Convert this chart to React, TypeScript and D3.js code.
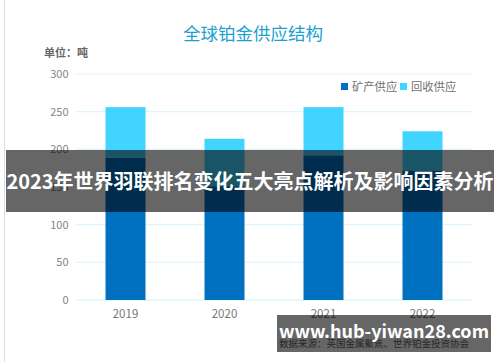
import React from "react";
import * as d3 from "d3";

const years = ["2019", "2020", "2021", "2022"];
const mineSupply = [189, 151, 192, 172];
const recycleSupply = [67, 63, 64, 52];
const yTicks = [0, 50, 100, 150, 200, 250, 300];
const seriesNames = ["矿产供应", "回收供应"];
const seriesColors = ["#0070c0", "#40d4ff"];

const W = 500;
const H = 362;
const margin = { top: 74, right: 28, bottom: 62, left: 76 };
const FONT = "'Noto Sans CJK SC', 'Noto Sans', sans-serif";

const App = () => {
  const x = d3
    .scaleBand()
    .domain(years)
    .range([margin.left, W - margin.right])
    .paddingInner(0.596)
    .paddingOuter(0.298);

  const y = d3
    .scaleLinear()
    .domain([0, 300])
    .range([H - margin.bottom, margin.top]);

  const rows = years.map((yr, i) => ({
    year: yr,
    mine: mineSupply[i],
    recycle: recycleSupply[i],
  }));
  const stacked = d3.stack().keys(["mine", "recycle"])(rows as any);

  return (
    <svg
      width={W}
      height={H}
      style={{ position: "absolute", left: 0, top: 0, background: "#fff" }}
    >
      <line x1={4.5} x2={4.5} y1={0} y2={H} stroke="#dcdcdc" />

      <text
        x={253}
        y={40}
        textAnchor="middle"
        fontFamily={FONT}
        fontSize={17.5}
        fill="#1d9fd0"
      >
        全球铂金供应结构
      </text>

      <text x={44} y={56.5} fontFamily={FONT} fontSize={11} fontWeight={700} fill="#666">
        单位：吨
      </text>

      {yTicks.map((t) => (
        <g key={t}>
          <line
            x1={margin.left}
            x2={W - margin.right}
            y1={y(t)}
            y2={y(t)}
            stroke={t === 0 ? "#cdeffd" : "#def5ff"}
            strokeWidth={1.2}
          />
          <text
            x={68.5}
            y={y(t)}
            dy="0.35em"
            textAnchor="end"
            fontFamily={FONT}
            fontSize={11}
            fill="#858585"
          >
            {t}
          </text>
        </g>
      ))}

      {stacked.map((s, si) => (
        <g key={si} fill={seriesColors[si]}>
          {s.map((d: any, i) => (
            <rect
              key={i}
              x={x(years[i])}
              y={y(d[1])}
              width={x.bandwidth()}
              height={y(d[0]) - y(d[1])}
            />
          ))}
        </g>
      ))}

      {years.map((yr) => (
        <text
          key={yr}
          x={(x(yr) as number) + x.bandwidth() / 2}
          y={318}
          textAnchor="middle"
          fontFamily={FONT}
          fontSize={11.5}
          fill="#777"
        >
          {yr}
        </text>
      ))}

      {seriesNames.map((n, i) => (
        <g key={n} transform={`translate(${341 + i * 59},0)`}>
          <rect x={0} y={83} width={7} height={7} fill={seriesColors[i]} />
          <text x={11} y={90.5} fontFamily={FONT} fontSize={11.3} fill="#707070">
            {n}
          </text>
        </g>
      ))}

      <text x={279} y={347} fontFamily={FONT} fontSize={9.5} fill="#666">
        数据来源：英国金属聚焦、世界铂金投资协会
      </text>

      <rect x={6} y={150} width={488} height={62} fill="rgba(0,0,0,0.6)" />
      <text
        x={250}
        y={182}
        dy="0.35em"
        textAnchor="middle"
        fontFamily={FONT}
        fontSize={20}
        fontWeight={700}
        fill="#fff"
      >
        2023年世界羽联排名变化五大亮点解析及影响因素分析
      </text>

      <rect x={277} y={315} width={214} height={37} fill="rgba(0,0,0,0.6)" />
      <text
        x={384}
        y={332}
        dy="0.35em"
        textAnchor="middle"
        fontFamily={FONT}
        fontSize={18}
        fontWeight={700}
        fill="#fff"
      >
        www.hub-yiwan28.com
      </text>
    </svg>
  );
};

export default App;
